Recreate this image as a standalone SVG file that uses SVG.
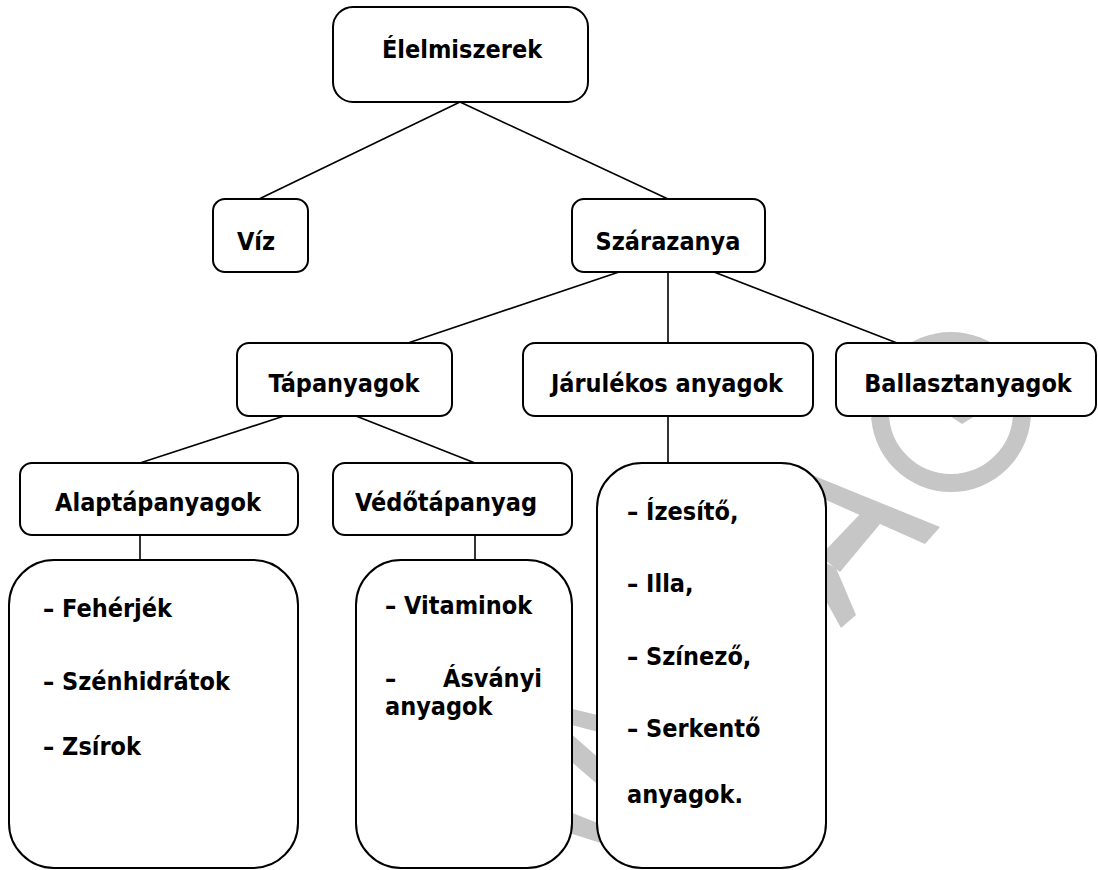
<svg xmlns="http://www.w3.org/2000/svg" width="1098" height="870" viewBox="0 0 1098 870">
<style>
.box{fill:#fff;stroke:#000;stroke-width:2}
.t{font-family:"DejaVu Sans Condensed","DejaVu Sans",sans-serif;font-stretch:condensed;font-weight:bold;font-size:25px;fill:#000}
.c{text-anchor:middle}
.ln{stroke:#000;stroke-width:1.6;fill:none}
.wm{fill:#c6c6c6}
</style>
<rect width="1098" height="870" fill="#fff"/>
<g id="watermark" class="wm">
<circle cx="951" cy="412" r="71" fill="none" stroke="#c6c6c6" stroke-width="18"/>
<polygon points="950,416 975,416 962,424"/>
<polygon points="790,466 940,527 925,544 790,484"/>
<polygon points="862,512 880,524 840,572 820,556"/>
<polygon points="820,560 836,568 856,615 841,628 820,590"/>
<polygon points="560,706 610,718 610,735 560,722"/>
<polygon points="560,724 610,768 610,795 560,752"/>
<polygon points="560,808 610,828 610,846 560,830"/>
</g>
<g id="connectors" class="ln">
<line x1="460" y1="102" x2="259" y2="199"/>
<line x1="460" y1="102" x2="668" y2="199"/>
<line x1="619" y1="272" x2="408" y2="343"/>
<line x1="668" y1="272" x2="668" y2="343"/>
<line x1="714" y1="272" x2="897" y2="343"/>
<line x1="284" y1="416" x2="140" y2="463"/>
<line x1="356" y1="416" x2="475" y2="463"/>
<line x1="140" y1="535" x2="140" y2="560"/>
<line x1="475" y1="535" x2="475" y2="560"/>
<line x1="668" y1="416" x2="668" y2="463"/>
</g>
<g id="n-elelmiszerek"><rect class="box" x="333" y="7" width="255" height="95" rx="20"/><text class="t c" x="462" y="58">Élelmiszerek</text></g>
<g id="n-viz"><rect class="box" x="213" y="199" width="95" height="73" rx="12"/><text class="t c" x="256" y="250">Víz</text></g>
<g id="n-szarazanya"><rect class="box" x="572" y="199" width="193" height="73" rx="12"/><text class="t c" x="668" y="250">Szárazanya</text></g>
<g id="n-tapanyagok"><rect class="box" x="237" y="343" width="215" height="73" rx="12"/><text class="t c" x="344" y="392">Tápanyagok</text></g>
<g id="n-jarulekos"><rect class="box" x="523" y="343" width="290" height="73" rx="12"/><text class="t c" x="667" y="392">Járulékos anyagok</text></g>
<g id="n-ballaszt"><rect class="box" x="836" y="343" width="260" height="73" rx="12"/><text class="t c" x="968" y="392">Ballasztanyagok</text></g>
<g id="n-alap"><rect class="box" x="20" y="463" width="278" height="72" rx="12"/><text class="t c" x="158" y="511">Alaptápanyagok</text></g>
<g id="n-vedo"><rect class="box" x="333" y="463" width="239" height="72" rx="12"/><text class="t c" x="446" y="511">Védőtápanyag</text></g>
<g id="n-alap-list"><rect class="box" x="9" y="560" width="289" height="308" rx="45"/>
<text class="t" x="43" y="617">– Fehérjék</text>
<text class="t" x="43" y="690">– Szénhidrátok</text>
<text class="t" x="43" y="755">– Zsírok</text></g>
<g id="n-vedo-list"><rect class="box" x="356" y="560" width="216" height="308" rx="45"/>
<text class="t" x="385" y="614">– Vitaminok</text>
<text class="t" y="687"><tspan x="385">–</tspan><tspan x="542" text-anchor="end">Ásványi</tspan></text>
<text class="t" x="385" y="715">anyagok</text></g>
<g id="n-jarulekos-list"><rect class="box" x="597" y="463" width="229" height="405" rx="45"/>
<text class="t" x="627" y="520">– Ízesítő,</text>
<text class="t" x="627" y="592">– Illa,</text>
<text class="t" x="627" y="665">– Színező,</text>
<text class="t" x="627" y="737">– Serkentő</text>
<text class="t" x="627" y="803">anyagok.</text></g>
</svg>
